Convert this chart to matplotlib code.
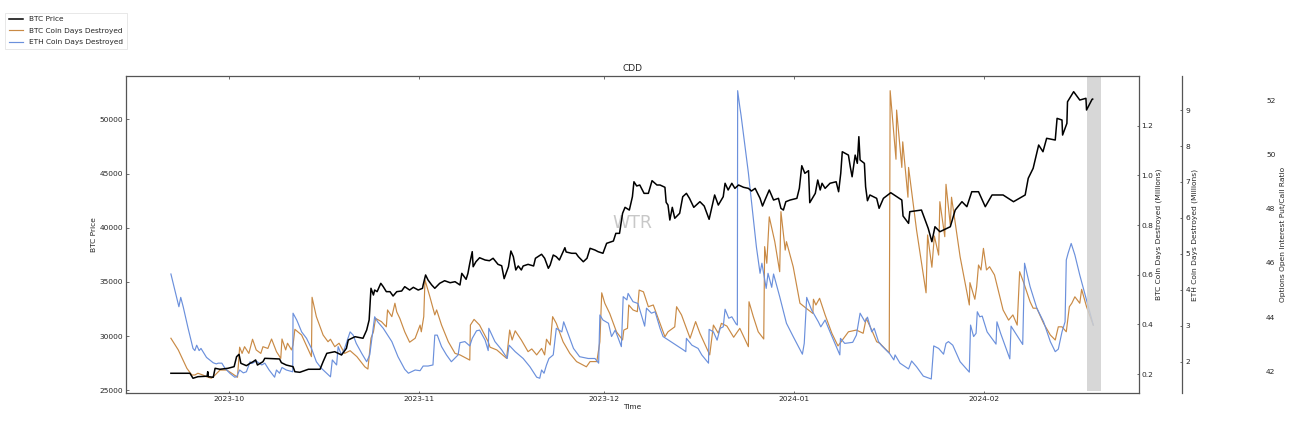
import matplotlib
matplotlib.use("Agg")
import matplotlib.pyplot as plt
import matplotlib.dates as mdates
import pandas as pd

TITLE = "CDD"
BASE_DATE = "2023-10-01"
month_ticks = ["2023-10-01", "2023-11-01", "2023-12-01", "2024-01-01", "2024-02-01"]
price_ticks = [25000, 30000, 35000, 40000, 45000, 50000]
btc_ticks = [0.2, 0.4, 0.6, 0.8, 1.0, 1.2]
eth_ticks = [2, 3, 4, 5, 6, 7, 8, 9]
ratio_ticks = [42, 44, 46, 48, 50, 52]

# (days since 2023-10-01, value)
btc_price = [(-9.5,26570),(-6.4,26570),(-5.9,26110),(-5.1,26255),(-3.6,26300),(-3.5,26715),(-3.4,26255),(-2.6,26200),(-2.3,27030),(-1.5,26940),(-0.2,27030),(0.8,27180),(1.2,28100),(1.6,28320),(1.9,27490),(2.8,27270),(3.4,27490),(3.9,27640),(4.3,27800),(4.6,27330),(5.5,27640),(5.8,27950),(8.2,27890),(8.5,27550),(9.3,27330),(10.4,27180),(10.7,26715),(11.5,26660),(12.9,26940),(14.8,26940),(15.3,27640),(15.9,28410),(17.2,28560),(18.3,28260),(19.1,28870),(19.4,29640),(20.5,29945),(21.8,29800),(22.4,30560),(22.8,31485),(23.1,34410),(23.5,33790),(23.7,34250),(24.1,34100),(24.7,34870),(25.1,34560),(25.6,34100),(26.2,34100),(26.7,33700),(27.3,34100),(28.1,34160),(28.6,34560),(29.4,34250),(30.0,34500),(30.8,34250),(31.5,34410),(31.6,34715),(32.0,35640),(32.4,35175),(33.0,34715),(33.5,34410),(34.3,34870),(35.1,35110),(36.0,34925),(36.8,35020),(37.6,34715),(37.9,35790),(38.6,35240),(38.9,35790),(39.2,36715),(39.6,37790),(39.75,36400),(40.2,36860),(40.8,37230),(41.7,37020),(42.4,36955),(43.0,37180),(43.8,36620),(44.4,36490),(44.8,35300),(45.5,36400),(45.9,37850),(46.3,37325),(46.7,36100),(47.1,36470),(47.6,36100),(47.9,36470),(48.7,36620),(49.6,36470),(49.9,37180),(50.9,37550),(51.4,37180),(52.0,36255),(52.3,36560),(52.8,37480),(53.3,37325),(53.8,37020),(54.7,38155),(54.9,37760),(55.8,37640),(56.5,37640),(56.9,37325),(57.7,36860),(58.3,37180),(58.8,38100),(59.6,37940),(60.1,37790),(60.9,37640),(61.5,38560),(62.6,38770),(63.0,39480),(63.6,39480),(64.1,41330),(64.5,41880),(65.2,41630),(65.7,42860),(65.95,44240),(66.4,43850),(66.9,43940),(67.6,43170),(68.3,43170),(68.9,44340),(69.7,43940),(70.2,43940),(71.0,43730),(71.2,42340),(71.5,42090),(71.8,40710),(72.2,41880),(72.6,40870),(73.4,41330),(73.9,42860),(74.5,43170),(75.0,42710),(75.7,41880),(76.7,42400),(77.4,42000),(78.2,40775),(79.1,43020),(79.7,42090),(80.5,42860),(80.8,44100),(81.3,43480),(81.9,44100),(82.4,43630),(83.0,43940),(83.8,43730),(84.6,43630),(85.1,43385),(85.7,43630),(86.5,42710),(86.9,42000),(87.3,42555),(88.0,43480),(88.7,42555),(89.5,42710),(89.9,41790),(90.3,41630),(90.7,42400),(91.4,42555),(92.5,42710),(92.9,43630),(93.3,45720),(93.8,45020),(94.4,45260),(94.6,42310),(95.5,43170),(95.9,44400),(96.3,43480),(96.6,44100),(97.1,43630),(97.9,44100),(98.9,44240),(99.3,43320),(99.65,45020),(99.9,47010),(100.9,46700),(101.2,45630),(101.5,44700),(102.0,46700),(102.35,45940),(102.6,48400),(102.8,46250),(103.5,45940),(103.7,43780),(104.0,42490),(104.4,43020),(105.5,42710),(105.9,41790),(106.6,42710),(107.8,43230),(109.6,42555),(109.8,41080),(110.7,40400),(110.9,41480),(112.8,41630),(113.9,39945),(114.5,38710),(115.0,40090),(115.8,39630),(117.5,40090),(118.3,41630),(119.4,42400),(120.2,41940),(121.0,43320),(122.1,43320),(123.2,41940),(124.3,43020),(126.1,43020),(127.8,42400),(129.7,43020),(130.2,44560),(131.0,45480),(131.9,47630),(132.6,47010),(133.2,48250),(134.6,48090),(134.9,50090),(135.7,49935),(135.8,48550),(136.5,49630),(136.6,51620),(137.6,52550),(138.6,51780),(139.6,51940),(139.7,50860),(140.6,51845),(140.7,51870)]

btc_cdd = [(-9.5,.344),(-8.3,.297),(-6.9,.223),(-6.1,.196),(-5.6,.196),(-5.1,.203),(-4.3,.196),(-3.7,.189),(-2.9,.183),(-2.3,.196),(-1.5,.216),(-0.4,.216),(0.4,.203),(1.35,.187),(1.7,.308),(2.1,.283),(2.5,.310),(3.2,.283),(3.8,.340),(4.4,.297),(5.15,.283),(5.5,.310),(6.3,.303),(6.9,.341),(7.7,.290),(8.4,.263),(8.6,.341),(9.2,.297),(9.5,.324),(10.15,.297),(10.4,.317),(10.7,.380),(11.8,.357),(13.4,.270),(13.5,.509),(14.2,.431),(15.3,.357),(16.1,.330),(16.5,.340),(17.2,.310),(17.9,.324),(18.8,.283),(19.7,.294),(20.8,.270),(22.1,.229),(22.6,.220),(23.1,.344),(23.5,.370),(23.85,.424),(24.8,.411),(25.6,.390),(25.8,.458),(26.5,.431),(27.0,.485),(27.3,.450),(27.8,.424),(28.6,.370),(29.4,.328),(30.3,.344),(31.1,.397),(31.3,.370),(31.7,.431),(31.9,.579),(32.7,.511),(33.5,.438),(33.8,.458),(34.6,.397),(35.7,.330),(36.8,.283),(37.6,.277),(39.2,.256),(39.3,.397),(39.9,.420),(40.8,.397),(42.2,.330),(42.5,.308),(43.6,.297),(45.2,.263),(45.7,.377),(46.1,.337),(46.6,.374),(47.6,.337),(48.7,.290),(49.3,.301),(50.1,.277),(50.9,.303),(51.4,.277),(51.7,.340),(52.3,.317),(52.7,.431),(53.3,.404),(54.4,.330),(55.5,.283),(56.6,.250),(58.2,.229),(58.8,.250),(59.9,.250),(60.4,.330),(60.7,.527),(61.2,.485),(62.0,.444),(63.1,.370),(64.1,.337),(64.3,.377),(64.9,.384),(65.1,.478),(65.8,.458),(66.5,.451),(66.8,.538),(67.5,.531),(68.3,.471),(69.1,.478),(70.2,.404),(71.0,.350),(71.5,.370),(72.6,.390),(72.9,.471),(73.7,.438),(75.1,.344),(76.0,.411),(76.7,.364),(78.3,.277),(78.9,.397),(79.7,.364),(80.2,.404),(81.1,.393),(82.2,.348),(83.2,.384),(84.6,.310),(84.7,.491),(85.4,.431),(86.2,.370),(87.1,.341),(87.25,.713),(87.6,.646),(88.0,.833),(88.9,.733),(89.7,.612),(89.9,.854),(90.6,.699),(90.8,.733),(91.9,.632),(93.0,.485),(93.8,.469),(95.1,.444),(95.2,.501),(95.6,.478),(96.2,.505),(97.1,.438),(98.2,.364),(99.2,.313),(100.9,.370),(102.2,.377),(103.3,.364),(103.8,.424),(104.7,.377),(105.5,.330),(106.0,.324),(107.55,.285),(107.7,1.341),(108.65,1.065),(108.75,1.263),(109.6,1.032),(109.75,1.135),(110.6,.912),(110.7,1.032),(112.0,.780),(113.55,.527),(113.8,.760),(114.5,.630),(114.9,.756),(115.6,.679),(115.8,.894),(116.6,.753),(116.8,.964),(117.5,.800),(117.7,.912),(119.1,.672),(120.6,.478),(120.7,.568),(121.5,.501),(121.8,.552),(122.1,.639),(122.5,.619),(122.9,.706),(123.4,.619),(123.9,.632),(124.7,.599),(126.1,.458),(127.0,.417),(127.7,.438),(128.4,.397),(128.8,.612),(129.4,.572),(130.5,.491),(131.0,.465),(131.6,.465),(132.7,.404),(133.8,.357),(134.6,.337),(135.1,.390),(135.7,.390),(136.4,.370),(136.9,.471),(137.3,.485),(137.8,.511),(138.6,.485),(138.9,.541),(139.7,.471),(140.8,.397)]

eth_cdd = [(-9.5,4.44),(-8.2,3.53),(-7.9,3.79),(-7.5,3.53),(-6.7,2.93),(-5.9,2.37),(-5.6,2.31),(-5.3,2.46),(-4.9,2.31),(-4.6,2.37),(-3.7,2.12),(-3.4,2.08),(-2.6,1.97),(-2.1,1.94),(-1.8,1.96),(-1.2,1.96),(-0.7,1.82),(0.1,1.68),(0.9,1.57),(1.2,1.58),(1.7,1.77),(2.3,1.69),(2.8,1.72),(3.4,2.0),(3.7,1.95),(4.4,2.02),(5.3,1.91),(5.8,1.96),(6.5,1.77),(7.4,1.57),(7.7,1.77),(8.2,1.68),(8.6,1.84),(9.3,1.77),(10.35,1.72),(10.4,3.35),(11.0,3.16),(11.2,3.08),(11.8,2.83),(12.6,2.65),(13.4,2.37),(14.2,2.0),(15.0,1.82),(16.5,1.58),(16.8,2.05),(17.5,1.91),(17.75,2.42),(18.3,2.19),(18.8,2.37),(19.7,2.83),(20.2,2.74),(20.7,2.51),(21.6,2.23),(22.4,2.0),(22.9,2.19),(23.7,3.25),(24.2,3.11),(25.1,2.93),(26.5,2.56),(27.5,2.14),(28.6,1.79),(29.2,1.68),(30.3,1.77),(31.1,1.75),(31.6,1.88),(32.4,1.88),(33.2,1.91),(33.5,2.74),(33.9,2.74),(34.6,2.42),(35.4,2.19),(36.2,2.0),(37.3,2.19),(37.6,2.53),(38.4,2.56),(39.2,2.44),(39.6,2.65),(40.3,2.86),(40.8,2.88),(41.7,2.60),(42.2,2.31),(42.3,2.93),(43.3,2.56),(44.4,2.33),(45.3,2.09),(45.6,2.46),(46.6,2.28),(47.9,2.09),(49.0,1.86),(50.1,1.57),(50.6,1.54),(50.9,1.77),(51.3,1.68),(51.7,1.91),(52.1,2.09),(52.8,2.19),(53.3,2.93),(54.2,2.83),(54.5,3.11),(55.2,2.79),(56.1,2.37),(57.1,2.14),(58.5,2.09),(59.6,2.09),(60.2,1.96),(60.4,3.30),(60.9,3.16),(61.8,3.07),(62.3,2.70),(62.9,2.88),(63.9,2.42),(64.2,3.81),(64.8,3.72),(65.0,3.90),(65.8,3.67),(66.6,3.62),(67.7,2.99),(68.0,3.49),(68.8,3.35),(69.4,3.39),(70.2,2.93),(70.7,2.70),(72.4,2.51),(74.0,2.33),(74.4,2.28),(74.5,2.65),(75.4,2.46),(76.4,2.37),(77.0,2.19),(78.1,1.96),(78.2,2.90),(78.9,2.83),(79.5,2.60),(80.0,2.93),(80.5,2.97),(80.8,3.46),(81.4,3.21),(81.9,3.25),(82.6,3.05),(82.8,3.02),(82.85,9.54),(83.2,9.09),(83.4,8.86),(84.6,7.25),(85.9,5.20),(86.2,4.83),(86.5,4.46),(86.8,4.74),(87.5,4.04),(87.8,4.46),(88.4,4.07),(88.7,4.44),(89.7,3.81),(90.8,3.07),(91.9,2.70),(93.4,2.21),(93.7,2.51),(94.1,3.79),(94.9,3.44),(96.0,3.11),(96.4,2.97),(97.1,3.16),(97.9,2.83),(99.5,2.19),(99.6,2.65),(100.3,2.51),(101.6,2.54),(102.2,2.74),(102.8,3.35),(103.6,3.11),(104.0,3.24),(104.7,2.83),(105.1,2.93),(105.8,2.56),(106.3,2.45),(107.6,2.23),(108.3,2.05),(108.5,2.19),(109.3,1.96),(110.7,1.80),(111.2,2.02),(112.0,1.86),(113.1,1.60),(114.4,1.52),(114.8,2.44),(115.6,2.37),(116.4,2.21),(116.8,2.51),(117.2,2.56),(117.9,2.46),(119.1,2.0),(120.6,1.71),(120.8,3.02),(121.3,2.70),(121.7,2.79),(121.9,3.39),(122.3,3.25),(122.7,3.27),(123.5,2.83),(124.95,2.49),(125.1,3.11),(125.7,2.79),(127.2,2.08),(127.4,2.99),(128.0,2.83),(129.3,2.48),(129.6,4.74),(130.5,4.09),(131.6,3.49),(132.7,3.11),(133.8,2.56),(134.6,2.28),(135.1,2.35),(135.7,2.83),(136.2,3.11),(136.4,4.83),(136.7,5.02),(137.2,5.29),(137.8,4.97),(138.6,4.41),(139.7,3.72),(140.8,3.02)]

latest_window = (139.8, 142.0)


def to_dates(days):
    return pd.Timestamp(BASE_DATE) + pd.to_timedelta(list(days), unit="D")


def unpack(points):
    days, values = zip(*points)
    return to_dates(days), list(values)


W, H = 1308, 423
TEXT = "#262626"
SPINE = "#555555"
FS = 5.4
fig = plt.figure(figsize=(W / 100, H / 100), dpi=100, facecolor="white")
ax = fig.add_axes([125.5 / W, 1 - 393 / H, 1013.2 / W, 316.7 / H])
ax_btc = ax.twinx()
ax_eth = ax.twinx()
ax_ratio = ax.twinx()

ax.set_zorder(5)
ax.patch.set_visible(False)

ln_btc, = ax_btc.plot(*unpack(btc_cdd), color="#c98a45", lw=0.85, label="BTC Coin Days Destroyed")
ln_eth, = ax_eth.plot(*unpack(eth_cdd), color="#6b90dc", lw=0.85, label="ETH Coin Days Destroyed")
ln_price, = ax.plot(*unpack(btc_price), color="black", lw=1.1, zorder=3, label="BTC Price")

span_dates = to_dates(latest_window)
ax.axvspan(span_dates[0], span_dates[1], ymin=0.006, ymax=1.0, color="#d0d0d0", alpha=0.85, lw=0, zorder=2)

ax.set_xlim(to_dates([-16.9, 148.2]))
ax.set_ylim(24750, 53970)
ax_btc.set_ylim(0.1235, 1.399)
ax_eth.set_ylim(1.13, 9.94)
ax_ratio.set_ylim(41.2, 52.88)

ax.set_xticks(pd.to_datetime(month_ticks))
ax.xaxis.set_major_formatter(mdates.DateFormatter("%Y-%m"))
ax.set_yticks(price_ticks)
ax_btc.set_yticks(btc_ticks)
ax_eth.set_yticks(eth_ticks)
ax_ratio.set_yticks(ratio_ticks)

ax.tick_params(axis="x", direction="in", length=1.8, width=0.6, top=True, bottom=True,
               labelsize=FS, labelcolor=TEXT, color=SPINE, pad=2.2)
ax.tick_params(axis="y", direction="in", length=1.8, width=0.6, left=True, right=False,
               labelsize=FS, labelcolor=TEXT, color=SPINE, pad=1.5)
ax_btc.tick_params(axis="y", direction="in", length=1.8, width=0.6, labelsize=FS,
                   labelcolor=TEXT, color=SPINE, pad=2)
ax_eth.tick_params(axis="y", direction="in", length=1.8, width=0.6, labelsize=FS,
                   labelcolor=TEXT, color=SPINE, pad=2.4)
ax_ratio.tick_params(axis="y", length=0, labelsize=FS, labelcolor=TEXT, pad=2.2)

for spine in ax.spines.values():
    spine.set_color(SPINE)
    spine.set_linewidth(0.9)
for other in (ax_btc, ax_eth, ax_ratio):
    for spine in other.spines.values():
        spine.set_visible(False)
ax_eth.spines["right"].set_visible(True)
ax_eth.spines["right"].set_position(("axes", 1.0430))
ax_eth.spines["right"].set_color(SPINE)
ax_eth.spines["right"].set_linewidth(0.9)
ax_ratio.spines["right"].set_position(("axes", 1.1227))

ax.set_title(TITLE, fontsize=6.5, color=TEXT, pad=3.5)
ax.set_xlabel("Time", fontsize=FS, color=TEXT, labelpad=1.5)
ax.set_ylabel("BTC Price", fontsize=FS, color=TEXT)
ax.yaxis.set_label_coords(-0.0286, 0.5)
ax_btc.set_ylabel("BTC Coin Days Destroyed (Millions)", fontsize=FS, color=TEXT)
ax_btc.yaxis.set_label_coords(1.0161, 0.5)
ax_eth.set_ylabel("ETH Coin Days Destroyed (Millions)", fontsize=FS, color=TEXT)
ax_eth.yaxis.set_label_coords(1.0526, 0.5)
ax_ratio.set_ylabel("Options Open Interest Put/Call Ratio", fontsize=FS, color=TEXT)
ax_ratio.yaxis.set_label_coords(1.1395, 0.5)

ax.text(0.5, 0.537, "WTR", transform=ax.transAxes, ha="center", va="center",
        fontsize=12.5, color="#c8c8c8", zorder=1)

leg = fig.legend(handles=[ln_price, ln_btc, ln_eth], loc="upper left",
                 bbox_to_anchor=(5.3 / W, 1 - 13 / H), bbox_transform=fig.transFigure,
                 borderaxespad=0, fontsize=5.3, frameon=True, fancybox=False,
                 labelspacing=0.72, handlelength=2.0, handletextpad=0.8,
                 borderpad=0.45, labelcolor=TEXT)
leg.get_frame().set_edgecolor("#dddddd")
leg.get_frame().set_linewidth(0.6)

fig.savefig("out.png", dpi=100, facecolor="white")
